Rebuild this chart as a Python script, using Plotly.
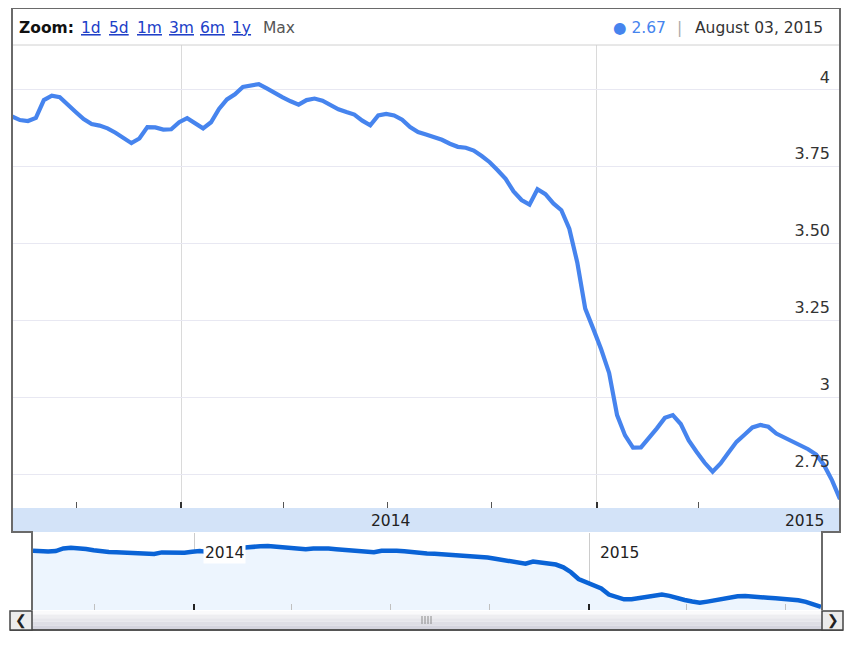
import pandas as pd
import plotly.graph_objects as go

# the page body keeps its default 8px margin, so the figure is drawn
# a little smaller and every pixel position is taken relative to (8, 8)
OFF = 8
W, H = 836, 631

# weekly observations, last one on 2015-08-03
dates = pd.date_range(end="2015-08-03", periods=105, freq="7D")
values = [
    3.914, 3.902, 3.899, 3.909, 3.967, 3.981, 3.976, 3.954, 3.928, 3.905,
    3.889, 3.884, 3.875, 3.861, 3.842, 3.827, 3.842, 3.879, 3.878, 3.871,
    3.872, 3.895, 3.908, 3.891, 3.875, 3.895, 3.938, 3.969, 3.986, 4.010,
    4.016, 4.019, 4.005, 3.989, 3.976, 3.963, 3.952, 3.967, 3.972, 3.965,
    3.951, 3.937, 3.928, 3.920, 3.900, 3.885, 3.917, 3.922, 3.917, 3.903,
    3.879, 3.863, 3.855, 3.847, 3.838, 3.825, 3.815, 3.812, 3.803, 3.785,
    3.765, 3.739, 3.711, 3.670, 3.642, 3.627, 3.677, 3.661, 3.631, 3.609,
    3.549, 3.439, 3.289, 3.224, 3.157, 3.080, 2.943, 2.877, 2.837, 2.838,
    2.868, 2.900, 2.934, 2.943, 2.914, 2.861, 2.823, 2.788, 2.759, 2.786,
    2.821, 2.856, 2.879, 2.903, 2.911, 2.905, 2.883, 2.870, 2.859, 2.846,
    2.832, 2.815, 2.780, 2.731, 2.670,
]
y_ticks = [2.75, 3, 3.25, 3.5, 3.75, 4]
y_tick_text = ["2.75", "3", "3.25", "3.50", "3.75", "4"]
zoom_links = ["1d", "5d", "1m", "3m", "6m", "1y"]
last_value = "2.67"
last_date = "August 03, 2015"
year_labels = ["2014", "2015"]

FONT = "DejaVu Sans"
LINE_BLUE = "#4684ee"
NAV_BLUE = "#0a63d6"


def px(x):
    return (x - OFF) / W


def py(y):
    return 1 - (y - OFF) / H


x_range = [dates[0], dates[-1]]

fig = go.Figure()
fig.add_trace(go.Scatter(x=dates, y=values, mode="lines",
                         line=dict(color=LINE_BLUE, width=4.2),
                         xaxis="x", yaxis="y", hoverinfo="skip"))
fig.add_trace(go.Scatter(x=dates, y=values, mode="lines",
                         line=dict(color=NAV_BLUE, width=4.5),
                         fill="tozeroy", fillcolor="#edf5fe",
                         xaxis="x2", yaxis="y2", hoverinfo="skip"))

shapes = []
# light blue year band under the main plot
shapes.append(dict(type="rect", xref="paper", yref="paper",
                   x0=px(12), x1=px(840), y0=py(532), y1=py(508),
                   fillcolor="#d3e3f8", line=dict(width=0), layer="below"))
# header separator
shapes.append(dict(type="line", xref="paper", yref="paper",
                   x0=px(12), x1=px(840), y0=py(45), y1=py(45),
                   line=dict(color="#d0d0d0", width=1)))
# scrollbar body, a few bands to fake the gradient
bands = ["#fafafb", "#eeeef1", "#e6e6eb", "#dedee5", "#d4d4de"]
top, step = 611, 3.6
for i, c in enumerate(bands):
    shapes.append(dict(type="rect", xref="paper", yref="paper",
                       x0=px(32), x1=px(822),
                       y0=py(top + step * (i + 1)), y1=py(top + step * i),
                       fillcolor=c, line=dict(width=0)))
shapes.append(dict(type="line", xref="paper", yref="paper",
                   x0=px(10), x1=px(843), y0=py(630), y1=py(630),
                   line=dict(color="#555555", width=2)))
# scroll buttons
for x0, x1 in [(10, 32), (822, 843)]:
    shapes.append(dict(type="rect", xref="paper", yref="paper",
                       x0=px(x0), x1=px(x1), y0=py(630), y1=py(611),
                       fillcolor="#ececec", line=dict(color="#444444", width=1.5)))
# grip
for gx in [422, 425, 428, 431]:
    shapes.append(dict(type="line", xref="paper", yref="paper",
                       x0=px(gx), x1=px(gx), y0=py(624), y1=py(616),
                       line=dict(color="#8a8a8a", width=1)))
# outer frame with the step down to the navigator
frame = (f"M {px(32)} {py(610)} L {px(32)} {py(532)} L {px(12)} {py(532)} "
         f"L {px(12)} {py(8)} L {px(840)} {py(8)} L {px(840)} {py(532)} "
         f"L {px(822)} {py(532)} L {px(822)} {py(610)}")
shapes.append(dict(type="path", xref="paper", yref="paper", path=frame,
                   line=dict(color="#6a6a6a", width=2)))

annotations = []
hy = py(28)
HS = 15.5
annotations.append(dict(text="<b>Zoom:</b>", x=px(17), y=hy, xref="paper", yref="paper",
                        xanchor="left", yanchor="middle", showarrow=False,
                        font=dict(family=FONT, size=HS, color="#111111")))
link_x = [79, 107, 135, 167, 198, 230]
for lab, lx in zip(zoom_links, link_x):
    annotations.append(dict(text=f"<u>{lab}</u>", x=px(lx), y=hy, xref="paper", yref="paper",
                            xanchor="left", yanchor="middle", showarrow=False,
                            font=dict(family=FONT, size=HS, color="#2040c8")))
annotations.append(dict(text="Max", x=px(261), y=hy, xref="paper", yref="paper",
                        xanchor="left", yanchor="middle", showarrow=False,
                        font=dict(family=FONT, size=HS, color="#555555")))
annotations.append(dict(text=last_date, x=px(825), y=hy, xref="paper", yref="paper",
                        xanchor="right", yanchor="middle", showarrow=False,
                        font=dict(family=FONT, size=HS, color="#333333")))
annotations.append(dict(text="|", x=px(679), y=hy, xref="paper", yref="paper",
                        xanchor="center", yanchor="middle", showarrow=False,
                        font=dict(family=FONT, size=HS, color="#aaaaaa")))
annotations.append(dict(text="\u25cf " + last_value, x=px(668), y=hy, xref="paper", yref="paper",
                        xanchor="right", yanchor="middle", showarrow=False,
                        font=dict(family=FONT, size=HS, color=LINE_BLUE)))
# year labels in the band
annotations.append(dict(text=year_labels[0], x=px(390), y=py(521), xref="paper", yref="paper",
                        xanchor="center", yanchor="middle", showarrow=False,
                        font=dict(family=FONT, size=15.5, color="#222222")))
annotations.append(dict(text=year_labels[1], x=px(826), y=py(521), xref="paper", yref="paper",
                        xanchor="right", yanchor="middle", showarrow=False,
                        font=dict(family=FONT, size=15.5, color="#222222")))
# year labels in the navigator
for lab in year_labels:
    annotations.append(dict(text=lab, x=f"{lab}-01-01", y=py(553), xref="x2", yref="paper",
                            xanchor="left", yanchor="middle", xshift=9, showarrow=False,
                            bgcolor="white", borderpad=1,
                            font=dict(family=FONT, size=15.5, color="#222222")))
# scroll arrows
annotations.append(dict(text="<b>\u276e</b>", x=px(21), y=py(620.5), xref="paper", yref="paper",
                        xanchor="center", yanchor="middle", showarrow=False,
                        font=dict(family=FONT, size=14, color="#222222")))
annotations.append(dict(text="<b>\u276f</b>", x=px(832.5), y=py(620.5), xref="paper", yref="paper",
                        xanchor="center", yanchor="middle", showarrow=False,
                        font=dict(family=FONT, size=14, color="#222222")))

fig.update_layout(
    width=W, height=H,
    margin=dict(l=0, r=0, t=0, b=0),
    paper_bgcolor="white", plot_bgcolor="white",
    showlegend=False,
    font=dict(family=FONT, size=14, color="#333333"),
    xaxis=dict(
        domain=[px(12), px(840)], anchor="y", type="date", range=x_range,
        showgrid=True, gridcolor="#dadada", gridwidth=1,
        tick0="2014-01-01", dtick="M12",
        ticks="inside", ticklen=6, tickwidth=2, tickcolor="#333333",
        showticklabels=False, zeroline=False, showline=False, fixedrange=True,
        minor=dict(dtick="M3", tick0="2014-01-01", ticks="inside", ticklen=6,
                   tickwidth=1, tickcolor="#555555", showgrid=False),
    ),
    yaxis=dict(
        domain=[py(508), py(45)], anchor="x", range=[2.641, 4.146],
        tickvals=y_ticks, ticktext=y_tick_text,
        side="right", ticklabelposition="inside", ticklabelshift=-13,
        ticklabelstandoff=7,
        showgrid=True, gridcolor="#e8e8f2", gridwidth=1,
        ticks="", zeroline=False, showline=False, fixedrange=True,
        tickfont=dict(family=FONT, size=16, color="#333333"),
    ),
    xaxis2=dict(
        domain=[px(33), px(821)], anchor="y2", type="date", range=x_range,
        showgrid=True, gridcolor="#cccccc", gridwidth=1,
        tick0="2014-01-01", dtick="M12",
        ticks="inside", ticklen=6, tickwidth=2, tickcolor="#222222",
        showticklabels=False, zeroline=False, showline=False, fixedrange=True,
        minor=dict(dtick="M3", tick0="2014-01-01", ticks="inside", ticklen=6,
                   tickwidth=1, tickcolor="#c0c0c0", showgrid=False),
    ),
    yaxis2=dict(
        domain=[py(610), py(533)], anchor="x2", range=[2.60, 4.31],
        visible=False, fixedrange=True,
    ),
    shapes=shapes,
    annotations=annotations,
)

fig.write_html("out.html", config={"displayModeBar": False})
